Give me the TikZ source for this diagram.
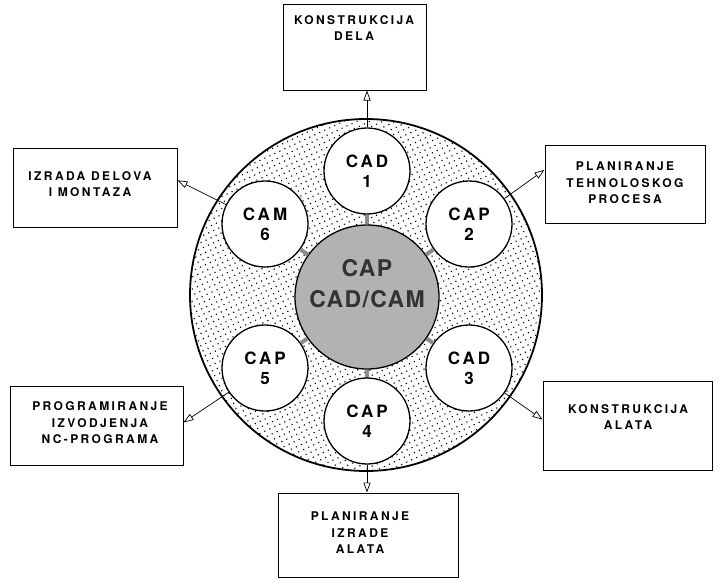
\documentclass[tikz,border=0pt]{standalone}
\usepackage{fontspec}
\setmainfont{TeX Gyre Heros}
\newfontfamily\boxfont[LetterSpace=20]{TeX Gyre Heros}
\newfontfamily\circfont[LetterSpace=18]{TeX Gyre Heros}
\newfontfamily\hubfont[LetterSpace=6]{TeX Gyre Heros}
\usetikzlibrary{arrows.meta,patterns.meta}
\begin{document}
\begin{tikzpicture}[x=1pt,y=-1pt,
  sub/.style={circle, draw, line width=1.3pt, fill=white, minimum size=86pt, inner sep=0pt, align=center,
    font=\circfont\bfseries\fontsize{17}{20}\selectfont},
  box/.style={draw, line width=1pt, inner sep=0pt},
  lbl/.style={align=center, inner sep=0pt, font=\boxfont\bfseries\fontsize{12}{16.5}\selectfont},
  arr/.style={-{Triangle[open,length=10pt,width=7pt]}, line width=.7pt},
  stub/.style={line width=4pt, draw=black!45}]
\useasboundingbox (0,0) rectangle (720,579);
% ring and hub
\node[circle, draw, line width=1.8pt, minimum size=352pt, preaction={fill=white},
  pattern={Dots[distance=5.5pt, radius=.8pt, angle=25]}] (ring) at (366,295){};
\node[circle, draw, line width=1.3pt, fill=black!30, minimum size=144pt] (hub) at (367,297){};
\node[font=\hubfont\bfseries\fontsize{23}{31}\selectfont, text=black!80, align=center, inner sep=0pt] (hubt) at (367,284){CAP\\CAD/CAM};
% satellites
\node[sub] (cad1) at (367,171){CAD\\1};
\node[sub] (cap2) at (469,224){CAP\\2};
\node[sub] (cad3) at (469,368){CAD\\3};
\node[sub] (cap4) at (367,421){CAP\\4};
\node[sub] (cap5) at (265,368){CAP\\5};
\node[sub] (cam6) at (265,224){CAM\\6};
\draw[stub](hub) -- (cad1);
\draw[stub](hub) -- (cap2);
\draw[stub](hub) -- (cad3);
\draw[stub](hub) -- (cap4);
\draw[stub](hub) -- (cap5);
\draw[stub](hub) -- (cam6);
% boxes
\node[box, minimum width=143pt, minimum height=86pt] (dela) at (354.5,47){};
\node[box, minimum width=164pt, minimum height=79pt] (montaza) at (95,187.5){};
\node[box, minimum width=160pt, minimum height=78pt] (tehn) at (625,184){};
\node[box, minimum width=173pt, minimum height=79pt] (nc) at (96.5,425.5){};
\node[box, minimum width=169pt, minimum height=89pt] (alata) at (627.5,425.5){};
\node[box, minimum width=180pt, minimum height=84pt] (izrade) at (368,535){};
\node[lbl] (delat) at (354,28){KONSTRUKCIJA\\DELA};
\node[lbl] (montazat) at (90,184){IZRADA DELOVA\\I MONTAZA};
\node[lbl] (tehnt) at (625,183){PLANIRANJE\\TEHNOLOSKOG\\PROCESA};
\node[lbl] (nct) at (100,423){PROGRAMIRANJE\\IZVODJENJA\\NC-PROGRAMA};
\node[lbl] (alatat) at (628,417){KONSTRUKCIJA\\ALATA};
\node[lbl] (izradet) at (360,533){PLANIRANJE\\IZRADE\\ALATA};
% arrows
\draw[arr](cad1.north) -- (cad1.north |- dela.south);
\draw[arr](cap2) -- (tehn.170);
\draw[arr](cad3) -- (alata.176);
\draw[arr](cap4.south) -- (cap4.south |- izrade.north);
\draw[arr](cap5) -- (nc.2);
\draw[arr](cam6) -- (montaza.5);
\end{tikzpicture}
\end{document}
